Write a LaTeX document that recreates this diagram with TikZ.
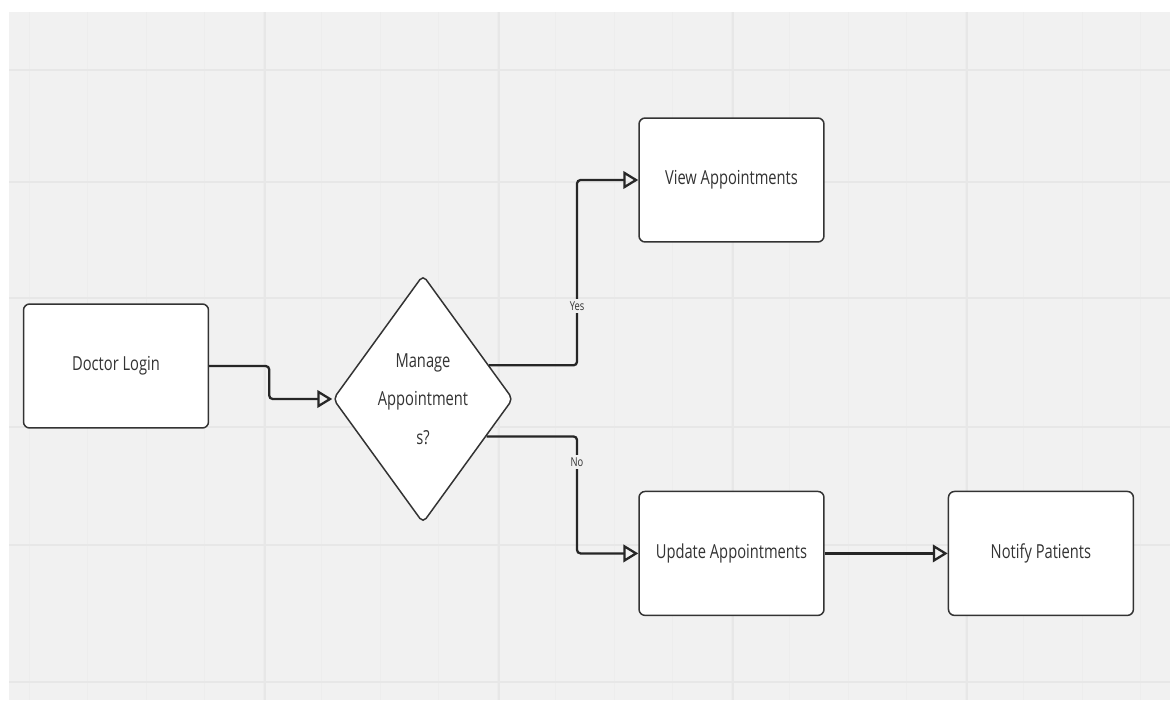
\documentclass[tikz,border=0pt]{standalone}
\usepackage{fontspec}
\setmainfont{Open Sans}[FakeStretch=0.76]
\usetikzlibrary{arrows.meta}
\usetikzlibrary{shapes.geometric, positioning}
\usetikzlibrary{calc}
\definecolor{panel}{HTML}{F1F1F1}
\definecolor{gridminor}{HTML}{EDEDED}
\definecolor{gridmajor}{HTML}{E7E7E7}
\definecolor{ink}{HTML}{333333}
\tikzset{
    box/.style={
        rectangle,
        rounded corners=3.5pt,
        draw=ink,
        line width=0.85pt,
        fill=white,
        text=ink,
        minimum width=3.7cm,
        minimum height=2.48cm,
        font=\fontsize{11}{13}\selectfont
    },
    decision/.style={
        diamond,
        rounded corners=3pt,
        draw=ink,
        line width=0.85pt,
        fill=white,
        text=ink,
        inner sep=0pt,
        shape aspect=0.726,
        minimum width=3.6cm,
        minimum height=4.96cm,
        align=center,
        font=\fontsize{11}{22}\selectfont
    },
    flow/.style={
        -{Triangle[open,length=8.5pt,width=10pt]},
        line width=1.3pt,
        draw=black!85,
        rounded corners=2pt
    },
    lbl/.style={
        fill=panel,
        text=ink,
        inner sep=1.5pt,
        font=\fontsize{7}{8}\selectfont
    }
}

\begin{document}
\begin{tikzpicture}[x=0.02cm, y=-0.02cm]
        % Background and grid
        \useasboundingbox (0,0) rectangle (1170,700);
        \fill[white] (0,0) rectangle (1170,700);
        \fill[panel] (9,12) rectangle (1170,700);
        \foreach \gx in {29,87.5,...,1170}
            \draw[gridminor, line width=0.5pt] (\gx,12) -- (\gx,700);
        \foreach \gx in {265,499,733,967}
            \draw[gridmajor, line width=0.7pt] (\gx,12) -- (\gx,700);
        \foreach \gy in {70,182,298,427,545,682}
            \draw[gridmajor, line width=0.8pt] (9,\gy) -- (1170,\gy);

        % Start
        \node (login) [box] at (116,366) {Doctor Login};

        % Decision
        \node (manage) [decision] at (423,399) {Manage\\Appointment\\s?};

        % Branches
        \node (view) [box] at (731.5,180) {View Appointments};
        \node (update) [box, below=4.96cm of view] {Update Appointments};
        \node (notify) [box, right=2.46cm of update] {Notify Patients};

        % Branch points
        \coordinate (split) at (577,0);
        \coordinate (yes_out) at ($(manage.north)!0.73!(manage.east)$);
        \coordinate (no_out) at ($(manage.south)!0.7!(manage.east)$);

        % Arrows
        \draw [flow] (login.east) -- ++(60,0) |- (manage.west);
        \draw [flow] (yes_out) -- (yes_out -| split) |- (view.west);
        \draw [flow] (no_out) -- (no_out -| split) |- (update.west);
        \draw [flow] (update) -- (notify);

        % Labels
        \node (yes_text) [lbl] at (577,306) {Yes};
        \node (no_text) [lbl] at (577,462) {No};
\end{tikzpicture}
\end{document}
